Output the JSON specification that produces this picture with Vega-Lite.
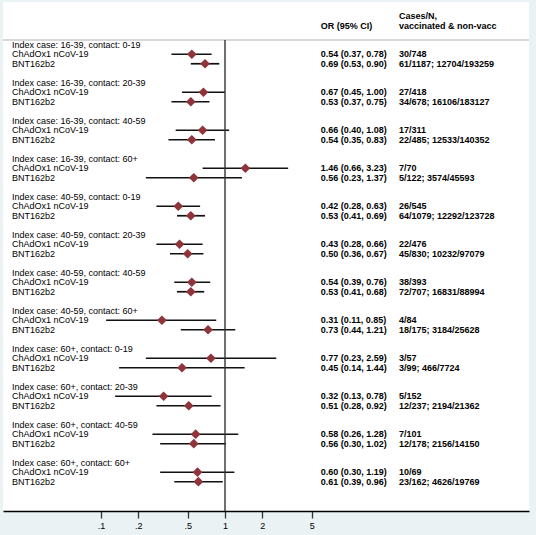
{
  "$schema": "https://vega.github.io/schema/vega-lite/v6.json",
  "width": 526,
  "height": 509,
  "autosize": {"type": "none"},
  "padding": {"left": 3, "top": 2, "right": 7, "bottom": 24},
  "background": "#eaf2f3",
  "config": {
    "view": {"fill": "white", "stroke": null},
    "font": "Liberation Sans",
    "text": {"font": "Liberation Sans", "fontSize": 9, "color": "#000000"}
  },
  "datasets": {
    "rows": [
      {"group": "Index case: 16-39, contact: 0-19", "vaccine": "ChAdOx1 nCoV-19", "or": 0.54, "lo": 0.37, "hi": 0.78, "ci": "0.54 (0.37, 0.78)", "cases": "30/748"},
      {"group": "Index case: 16-39, contact: 0-19", "vaccine": "BNT162b2", "or": 0.69, "lo": 0.53, "hi": 0.90, "ci": "0.69 (0.53, 0.90)", "cases": "61/1187; 12704/193259"},
      {"group": "Index case: 16-39, contact: 20-39", "vaccine": "ChAdOx1 nCoV-19", "or": 0.67, "lo": 0.45, "hi": 1.00, "ci": "0.67 (0.45, 1.00)", "cases": "27/418"},
      {"group": "Index case: 16-39, contact: 20-39", "vaccine": "BNT162b2", "or": 0.53, "lo": 0.37, "hi": 0.75, "ci": "0.53 (0.37, 0.75)", "cases": "34/678; 16106/183127"},
      {"group": "Index case: 16-39, contact: 40-59", "vaccine": "ChAdOx1 nCoV-19", "or": 0.66, "lo": 0.40, "hi": 1.08, "ci": "0.66 (0.40, 1.08)", "cases": "17/311"},
      {"group": "Index case: 16-39, contact: 40-59", "vaccine": "BNT162b2", "or": 0.54, "lo": 0.35, "hi": 0.83, "ci": "0.54 (0.35, 0.83)", "cases": "22/485; 12533/140352"},
      {"group": "Index case: 16-39, contact: 60+", "vaccine": "ChAdOx1 nCoV-19", "or": 1.46, "lo": 0.66, "hi": 3.23, "ci": "1.46 (0.66, 3.23)", "cases": "7/70"},
      {"group": "Index case: 16-39, contact: 60+", "vaccine": "BNT162b2", "or": 0.56, "lo": 0.23, "hi": 1.37, "ci": "0.56 (0.23, 1.37)", "cases": "5/122; 3574/45593"},
      {"group": "Index case: 40-59, contact: 0-19", "vaccine": "ChAdOx1 nCoV-19", "or": 0.42, "lo": 0.28, "hi": 0.63, "ci": "0.42 (0.28, 0.63)", "cases": "26/545"},
      {"group": "Index case: 40-59, contact: 0-19", "vaccine": "BNT162b2", "or": 0.53, "lo": 0.41, "hi": 0.69, "ci": "0.53 (0.41, 0.69)", "cases": "64/1079; 12292/123728"},
      {"group": "Index case: 40-59, contact: 20-39", "vaccine": "ChAdOx1 nCoV-19", "or": 0.43, "lo": 0.28, "hi": 0.66, "ci": "0.43 (0.28, 0.66)", "cases": "22/476"},
      {"group": "Index case: 40-59, contact: 20-39", "vaccine": "BNT162b2", "or": 0.50, "lo": 0.36, "hi": 0.67, "ci": "0.50 (0.36, 0.67)", "cases": "45/830; 10232/97079"},
      {"group": "Index case: 40-59, contact: 40-59", "vaccine": "ChAdOx1 nCoV-19", "or": 0.54, "lo": 0.39, "hi": 0.76, "ci": "0.54 (0.39, 0.76)", "cases": "38/393"},
      {"group": "Index case: 40-59, contact: 40-59", "vaccine": "BNT162b2", "or": 0.53, "lo": 0.41, "hi": 0.68, "ci": "0.53 (0.41, 0.68)", "cases": "72/707; 16831/88994"},
      {"group": "Index case: 40-59, contact: 60+", "vaccine": "ChAdOx1 nCoV-19", "or": 0.31, "lo": 0.11, "hi": 0.85, "ci": "0.31 (0.11, 0.85)", "cases": "4/84"},
      {"group": "Index case: 40-59, contact: 60+", "vaccine": "BNT162b2", "or": 0.73, "lo": 0.44, "hi": 1.21, "ci": "0.73 (0.44, 1.21)", "cases": "18/175; 3184/25628"},
      {"group": "Index case: 60+, contact: 0-19", "vaccine": "ChAdOx1 nCoV-19", "or": 0.77, "lo": 0.23, "hi": 2.59, "ci": "0.77 (0.23, 2.59)", "cases": "3/57"},
      {"group": "Index case: 60+, contact: 0-19", "vaccine": "BNT162b2", "or": 0.45, "lo": 0.14, "hi": 1.44, "ci": "0.45 (0.14, 1.44)", "cases": "3/99; 466/7724"},
      {"group": "Index case: 60+, contact: 20-39", "vaccine": "ChAdOx1 nCoV-19", "or": 0.32, "lo": 0.13, "hi": 0.78, "ci": "0.32 (0.13, 0.78)", "cases": "5/152"},
      {"group": "Index case: 60+, contact: 20-39", "vaccine": "BNT162b2", "or": 0.51, "lo": 0.28, "hi": 0.92, "ci": "0.51 (0.28, 0.92)", "cases": "12/237; 2194/21362"},
      {"group": "Index case: 60+, contact: 40-59", "vaccine": "ChAdOx1 nCoV-19", "or": 0.58, "lo": 0.26, "hi": 1.28, "ci": "0.58 (0.26, 1.28)", "cases": "7/101"},
      {"group": "Index case: 60+, contact: 40-59", "vaccine": "BNT162b2", "or": 0.56, "lo": 0.30, "hi": 1.02, "ci": "0.56 (0.30, 1.02)", "cases": "12/178; 2156/14150"},
      {"group": "Index case: 60+, contact: 60+", "vaccine": "ChAdOx1 nCoV-19", "or": 0.60, "lo": 0.30, "hi": 1.19, "ci": "0.60 (0.30, 1.19)", "cases": "10/69"},
      {"group": "Index case: 60+, contact: 60+", "vaccine": "BNT162b2", "or": 0.61, "lo": 0.39, "hi": 0.96, "ci": "0.61 (0.39, 0.96)", "cases": "23/162; 4626/19769"}
    ]
  },
  "layer": [
    {
      "data": {"name": "rows"},
      "mark": {"type": "rule", "color": "#111111", "strokeWidth": 1.7},
      "encoding": {
        "x": {
          "field": "lo", "type": "quantitative",
          "scale": {"type": "log", "domain": [0.01621, 282.85], "nice": false, "zero": false},
          "axis": {
            "values": [0.1, 0.2, 0.5, 1, 2, 5],
            "labelExpr": "datum.value < 1 ? '.' + format(datum.value * 10, 'd') : format(datum.value, 'd')",
            "grid": false, "title": null,
            "domainColor": "#000000", "domainWidth": 1.4,
            "tickColor": "#333333", "tickWidth": 1.3, "tickSize": 7,
            "labelColor": "#000000", "labelFontSize": 9, "labelFont": "Liberation Sans",
            "labelPadding": 3
          }
        },
        "x2": {"field": "hi"},
        "y": {
          "field": "group", "type": "nominal", "axis": null,
          "scale": {
            "type": "band",
            "domain": ["header",
              "Index case: 16-39, contact: 0-19", "Index case: 16-39, contact: 20-39", "Index case: 16-39, contact: 40-59", "Index case: 16-39, contact: 60+",
              "Index case: 40-59, contact: 0-19", "Index case: 40-59, contact: 20-39", "Index case: 40-59, contact: 40-59", "Index case: 40-59, contact: 60+",
              "Index case: 60+, contact: 0-19", "Index case: 60+, contact: 20-39", "Index case: 60+, contact: 40-59", "Index case: 60+, contact: 60+"],
            "paddingInner": 0, "paddingOuter": 0.1974, "align": 0, "round": false
          }
        },
        "yOffset": {
          "field": "vaccine", "type": "nominal",
          "scale": {"type": "band", "domain": ["label", "ChAdOx1 nCoV-19", "BNT162b2", "spacer"], "paddingInner": 0, "paddingOuter": 0, "round": false}
        }
      }
    },
    {
      "data": {"values": [{}]},
      "mark": {"type": "rule", "color": "#b2b2b2", "strokeWidth": 1.2},
      "encoding": {
        "y": {"datum": "Index case: 16-39, contact: 0-19", "type": "nominal", "bandPosition": 0, "axis": null}
      }
    },
    {
      "data": {"values": [{}]},
      "mark": {"type": "rule", "color": "#333333", "strokeWidth": 1.4},
      "encoding": {
        "x": {"datum": 1, "type": "quantitative"},
        "y": {"datum": "Index case: 16-39, contact: 0-19", "type": "nominal", "bandPosition": 0, "axis": null},
        "y2": {"value": "height"}
      }
    },
    {
      "data": {"name": "rows"},
      "mark": {"type": "point", "shape": "diamond", "filled": true, "opacity": 1, "color": "#8f343b", "size": 95},
      "encoding": {
        "x": {"field": "or", "type": "quantitative"},
        "y": {"field": "group", "type": "nominal", "axis": null},
        "yOffset": {"field": "vaccine", "type": "nominal"}
      }
    },
    {
      "data": {"name": "rows"},
      "transform": [{"filter": "datum.vaccine == 'ChAdOx1 nCoV-19'"}],
      "mark": {"type": "text", "align": "left", "baseline": "middle"},
      "encoding": {
        "x": {"datum": 0.019152, "type": "quantitative"},
        "y": {"field": "group", "type": "nominal", "axis": null},
        "yOffset": {"datum": "label", "type": "nominal"},
        "text": {"field": "group"}
      }
    },
    {
      "data": {"name": "rows"},
      "mark": {"type": "text", "align": "left", "baseline": "middle"},
      "encoding": {
        "x": {"datum": 0.019152, "type": "quantitative"},
        "y": {"field": "group", "type": "nominal", "axis": null},
        "yOffset": {"field": "vaccine", "type": "nominal"},
        "text": {"field": "vaccine"}
      }
    },
    {
      "data": {"name": "rows"},
      "mark": {"type": "text", "align": "left", "baseline": "middle", "fontWeight": "bold"},
      "encoding": {
        "x": {"datum": 5.912, "type": "quantitative"},
        "y": {"field": "group", "type": "nominal", "axis": null},
        "yOffset": {"field": "vaccine", "type": "nominal"},
        "text": {"field": "ci"}
      }
    },
    {
      "data": {"name": "rows"},
      "mark": {"type": "text", "align": "left", "baseline": "middle", "fontWeight": "bold"},
      "encoding": {
        "x": {"datum": 25.31, "type": "quantitative"},
        "y": {"field": "group", "type": "nominal", "axis": null},
        "yOffset": {"field": "vaccine", "type": "nominal"},
        "text": {"field": "cases"}
      }
    },
    {
      "data": {"values": [{"title": "OR (95% CI)"}]},
      "mark": {"type": "text", "align": "left", "baseline": "middle", "fontWeight": "bold"},
      "encoding": {
        "x": {"datum": 5.912, "type": "quantitative"},
        "y": {"datum": "header", "type": "nominal", "axis": null},
        "yOffset": {"datum": "BNT162b2", "type": "nominal"},
        "text": {"field": "title"}
      }
    },
    {
      "data": {"values": [{"title": "Cases/N,"}]},
      "mark": {"type": "text", "align": "left", "baseline": "middle", "fontWeight": "bold"},
      "encoding": {
        "x": {"datum": 25.31, "type": "quantitative"},
        "y": {"datum": "header", "type": "nominal", "axis": null},
        "yOffset": {"datum": "ChAdOx1 nCoV-19", "type": "nominal"},
        "text": {"field": "title"}
      }
    },
    {
      "data": {"values": [{"title": "vaccinated & non-vacc"}]},
      "mark": {"type": "text", "align": "left", "baseline": "middle", "fontWeight": "bold"},
      "encoding": {
        "x": {"datum": 25.31, "type": "quantitative"},
        "y": {"datum": "header", "type": "nominal", "axis": null},
        "yOffset": {"datum": "BNT162b2", "type": "nominal"},
        "text": {"field": "title"}
      }
    }
  ]
}
